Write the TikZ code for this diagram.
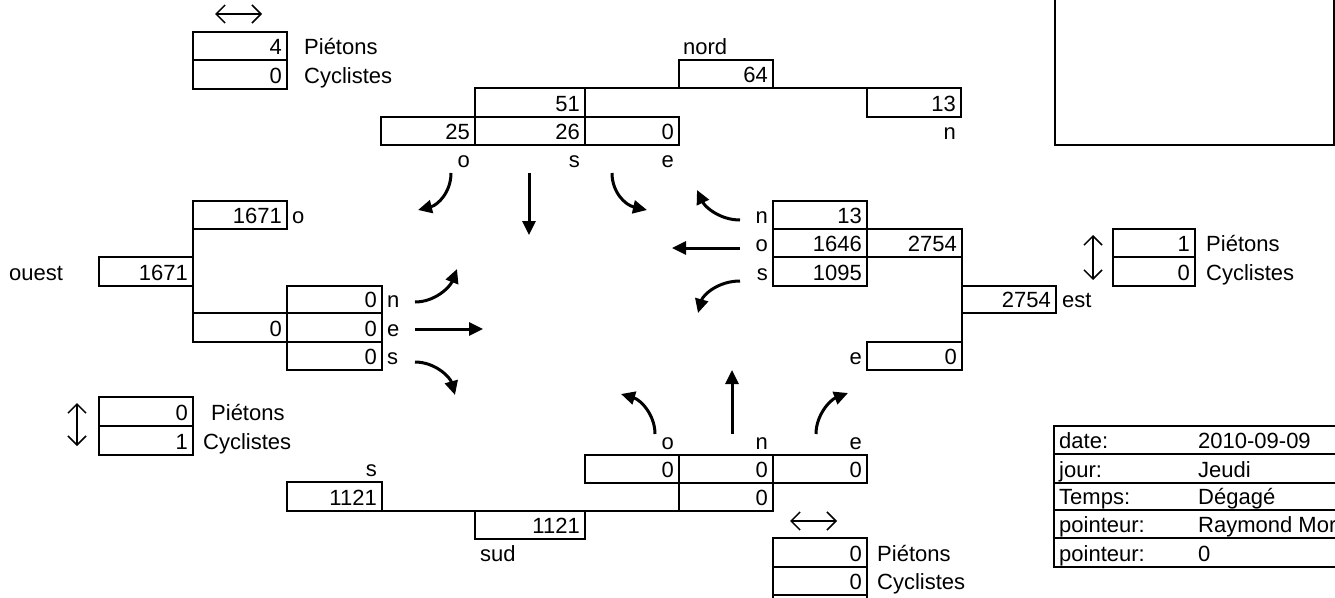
\documentclass[tikz,border=0pt]{standalone}
\usepackage{fontspec}
\setmainfont{Liberation Sans}
\usetikzlibrary{arrows.meta}
\tikzset{
  cell/.style     = {line width=2pt},
  thincell/.style = {line width=1.5pt},
  num/.style      = {anchor=base east, inner sep=0pt},
  lbl/.style      = {anchor=base west, inner sep=0pt},
  flow/.style     = {-{Triangle[length=14pt,width=13pt]}, line width=3pt},
  dbl/.style      = {{Straight Barb[length=9pt,width=18pt]}-{Straight Barb[length=9pt,width=18pt]},
                     line width=1.5pt},
}

\begin{document}
\begin{tikzpicture}[x=1pt,y=-1pt,every node/.style={font=\fontsize{22}{24}\selectfont}]
  \useasboundingbox (0,0) rectangle (1335,597);

  % ---------------- count boxes ------------------------------------------
  \foreach \xa/\ya/\xb/\yb in {
      679/60/773/88, 475/88/585/117, 867/88/961/117,
      381/117/475/145, 475/117/585/145, 585/117/679/145,       % nord
      193/201/287/229, 99/257/193/286, 287/286/382/313,
      193/313/287/342, 287/313/382/342, 287/342/382/370,       % ouest
      773/201/867/229, 773/229/867/257, 867/229/962/257,
      773/257/867/286, 962/286/1056/313, 867/342/962/370,      % est
      287/482/382/511, 475/511/585/539, 585/455/679/483,
      679/455/773/483, 773/455/867/483, 679/483/773/511,       % sud
      193/32/287/60, 193/60/287/89, 1113/229/1195/257, 1113/257/1195/286,
      99/397/193/426, 99/426/193/455, 773/538/867/567, 773/567/867/595}
    \draw[cell] (\xa,\ya) rectangle (\xb,\yb);
  \draw[cell] (773,595) -- (773,605) (867,595) -- (867,605);
  \draw[cell] (585,88) -- (867,88);
  \draw[cell] (193,229) -- (193,313);
  \draw[cell] (962,257) -- (962,342);
  \draw[cell] (382,511) -- (679,511);

  % ---------------- counts -----------------------------------------------
  \foreach \x/\y/\t in {
      768/82/64, 580/111/51, 956/111/13, 470/139/25, 580/139/26, 674/139/0,
      282/223/1671, 188/280/1671, 377/307/0, 282/336/0, 377/336/0, 377/364/0,
      862/223/13, 862/251/1646, 957/251/2754, 862/280/1095, 1051/307/2754, 957/364/0,
      377/505/1121, 580/533/1121, 674/477/0, 768/477/0, 862/477/0, 768/505/0,
      282/54/4, 282/83/0, 1190/251/1, 1190/280/0, 188/420/0, 188/449/1,
      862/561/0, 862/589/0}
    \node[num] (c-\x-\y) at (\x,\y) {\t};

  % ---------------- direction labels -------------------------------------
  \node[lbl] (nord)  at (683,54)  {nord};
  \node[lbl] (ouest) at (9,280)   {ouest};
  \node[lbl] (est)   at (1062,307) {est};
  \node[lbl] (sud)   at (480,561) {sud};
  \foreach \x/\y/\t in {956/139/n, 470/167/o, 580/167/s, 674/167/e,
      768/223/n, 768/251/o, 768/280/s, 862/364/e,
      377/476/s, 674/449/o, 768/449/n, 862/449/e}
    \node[num] (d-\x-\y) at (\x,\y) {\t};
  \foreach \x/\y/\t in {292/223/o, 387/307/n, 387/336/e, 387/364/s}
    \node[lbl] (d-\x-\y) at (\x,\y) {\t};

  % ---------------- pedestrians & cyclists -------------------------------
  \node[lbl] (pietN) at (304,54)  {Piétons};
  \node[lbl] (cycN)  at (304,83)  {Cyclistes};
  \node[lbl] (pietE) at (1206,251) {Piétons};
  \node[lbl] (cycE)  at (1206,280) {Cyclistes};
  \node[lbl] (pietO) at (211,420) {Piétons};
  \node[lbl] (cycO)  at (203,449) {Cyclistes};
  \node[lbl] (pietS) at (877,561) {Piétons};
  \node[lbl] (cycS)  at (877,589) {Cyclistes};
  \draw[dbl] (215,14) -- (262,14);
  \draw[dbl] (790,521) -- (837,521);
  \draw[dbl] (1093,235) -- (1093,280);
  \draw[dbl] (77,403) -- (77,446);

  % ---------------- turning movements ------------------------------------
  \draw[flow] (451,173) .. controls (451,192) and (438,205) .. (418,210);
  \draw[flow] (529,173) -- (529,235);
  \draw[flow] (612,173) .. controls (612,192) and (625,205) .. (647,210);
  \draw[flow] (740,220) .. controls (720,220) and (705,207) .. (697,190);
  \draw[flow] (740,248) -- (672,248);
  \draw[flow] (740,281) .. controls (718,281) and (703,295) .. (698,313);
  \draw[flow] (415,302) .. controls (435,302) and (450,287) .. (457,269);
  \draw[flow] (415,329) -- (483,329);
  \draw[flow] (415,362) .. controls (435,362) and (450,377) .. (455,395);
  \draw[flow] (655,434) .. controls (655,415) and (641,400) .. (621,394);
  \draw[flow] (732,434) -- (732,370);
  \draw[flow] (816,434) .. controls (816,415) and (830,400) .. (848,393);

  % ---------------- header boxes -----------------------------------------
  \draw[cell] (1055,-5) -- (1055,145) -- (1334,145) -- (1334,-5);
  \draw[cell] (1345,426) -- (1054,426) -- (1054,567) -- (1345,567);
  \foreach \y in {454,483,510,538}
    \draw[thincell] (1054,\y) -- (1345,\y);
  \foreach \y/\ta/\tb in {448/date:/2010-09-09, 477/jour:/Jeudi, 504/Temps:/Dégagé,
      532/pointeur:/Raymond Mor, 561/pointeur:/0}
    \node[lbl] (info-\y) at (1059,\y) {\ta} node[lbl] (val-\y) at (1198,\y) {\tb};
\end{tikzpicture}
\end{document}
